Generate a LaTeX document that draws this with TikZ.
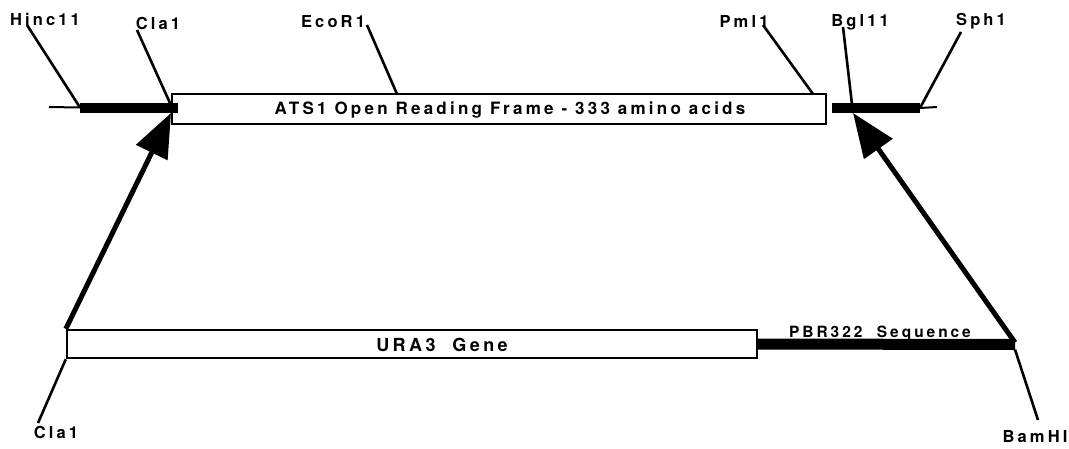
\documentclass[tikz,border=0pt]{standalone}
\usepackage{fontspec}
\newfontfamily\mapfont[LetterSpace=19]{TeX Gyre Heros}
\usetikzlibrary{arrows.meta}
\tikzset{
  sitelabel/.style={font=\mapfont\bfseries\fontsize{16.5}{18}\selectfont, inner sep=0pt, anchor=base},
  boxtext/.style={font=\mapfont\bfseries\fontsize{17}{19}\selectfont, inner sep=0pt, anchor=base},
  siteline/.style={line width=2.6pt},
  genebox/.style={draw, line width=2.4pt, fill=white, inner sep=0pt},
  thinstrand/.style={line width=2pt},
  thickstrand/.style={line width=10pt},
  insertarrow/.style={-{Triangle[length=44pt,width=34pt]}, line width=5pt}
}

\begin{document}
\begin{tikzpicture}[x=1pt, y=-1pt]
  \useasboundingbox (0,0) rectangle (1069,448);

  % ATS1 locus
  \coordinate (lend) at (49,107);
  \coordinate (hincsite) at (80,107.5);
  \coordinate (clasite) at (172,107.5);
  \coordinate (ecosite) at (397,94);
  \coordinate (pmlsite) at (813,94);
  \coordinate (bglsite) at (832,108);
  \coordinate (sphsite) at (920,108);
  \coordinate (rend) at (937,107);
  \coordinate (clajoin) at (171,113);
  \coordinate (bgljoin) at (853,113);

  \node[sitelabel] (hinc) at (45,25) {Hinc11};
  \node[sitelabel] (clatop) at (158,29) {Cla1};
  \node[sitelabel] (eco) at (333,27) {EcoR1};
  \node[sitelabel] (pml) at (744,27) {Pml1};
  \node[sitelabel] (bgl) at (860,26) {Bgl11};
  \node[sitelabel] (sph) at (981,25) {Sph1};

  \draw[siteline] ([xshift=-18pt]hinc.base) -- (hincsite);
  \draw[siteline] ([xshift=-21pt,yshift=-1pt]clatop.base) -- (clasite);
  \draw[siteline] ([xshift=34pt,yshift=2pt]eco.base) -- (ecosite);
  \draw[siteline] ([xshift=19pt,yshift=2pt]pml.base) -- (pmlsite);
  \draw[siteline] ([xshift=-17pt,yshift=-1pt]bgl.base) -- (bgljoin);
  \draw[siteline] ([xshift=-20pt,yshift=-7pt]sph.base) -- (sphsite);

  \node[genebox, minimum width=654pt, minimum height=30pt] (orf) at (499,109) {};
  \node[boxtext] (orftext) at (510,114) {ATS1 Open Reading Frame - 333 amino acids};

  \draw[thinstrand] (lend) -- (hincsite);
  \draw[thickstrand] (hincsite) -- ([xshift=6pt]clasite);
  \draw[thickstrand] (bglsite) -- (sphsite);
  \draw[thinstrand] (sphsite) -- (rend);

  % URA3 cassette
  \coordinate (bamsite) at (1015,344.5);
  \node[genebox, minimum width=690pt, minimum height=28pt] (ura) at (412,344) {};
  \node[boxtext, font=\mapfont\bfseries\fontsize{18}{20}\selectfont] (uratext) at (442,351) {URA3\ \ Gene};
  \draw[line width=11pt] (ura.east) -- (bamsite);
  \node[sitelabel, font=\mapfont\bfseries\fontsize{15.5}{17}\selectfont] (pbr) at (880,337) {PBR322\ \ Sequence};

  \node[sitelabel] (clabot) at (56,438) {Cla1};
  \node[sitelabel] (bam) at (1035,442) {BamHI};
  \draw[siteline] (ura.south west) -- ([xshift=-18pt,yshift=15pt]clabot.base);
  \draw[siteline] ([yshift=-5pt]bamsite) -- ([xshift=3pt,yshift=22pt]bam.base);

  % insertion arrows
  \draw[insertarrow] (ura.north west) -- (clajoin);
  \draw[insertarrow] ([yshift=2pt]bamsite) -- (bgljoin);
\end{tikzpicture}
\end{document}
